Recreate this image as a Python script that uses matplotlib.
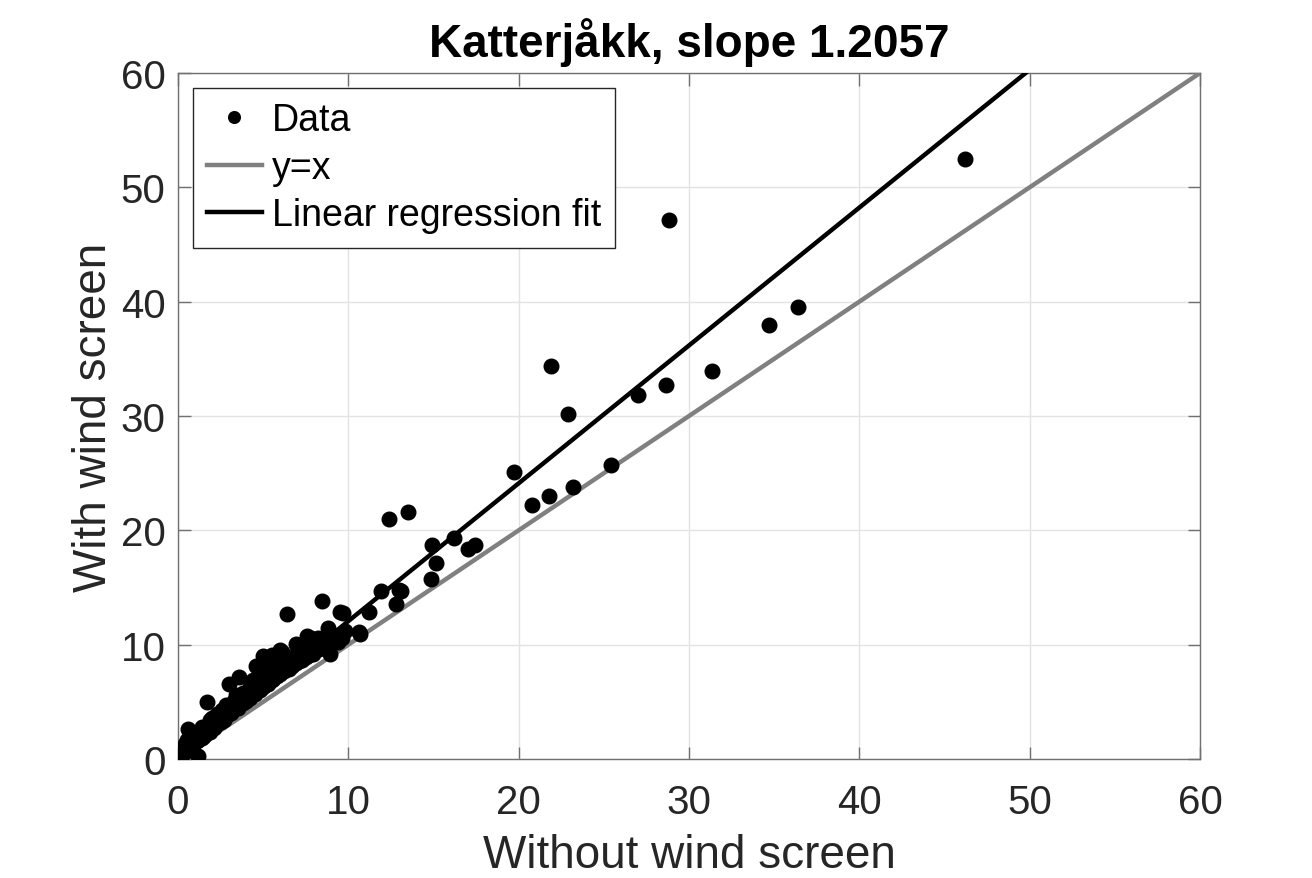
import matplotlib
matplotlib.use("Agg")
import matplotlib.pyplot as plt

plt.rcParams['font.family'] = ['Liberation Sans', 'DejaVu Sans']

station = "Katterjåkk"
slope = 1.2057

# Precipitation sums: gauge without wind screen (x) vs. with wind screen (y)
without_screen = [
    0.0, 0.1, 0.15, 0.2, 0.25, 0.3, 0.35, 0.4, 0.45, 0.5, 0.55, 0.6, 0.7, 0.75,
    0.8, 0.9, 1.0, 1.1, 1.2, 1.3, 1.4, 1.5, 1.6, 1.7, 1.8, 1.9, 2.0, 2.1, 2.2,
    2.3, 2.5, 2.6, 2.7, 2.8, 3.0, 3.1, 3.3, 3.5, 3.6, 3.8, 4.0, 4.1, 4.3, 4.5,
    4.6, 4.8, 5.0, 5.1, 5.3, 5.5, 5.6, 5.8, 6.0, 6.2, 6.5, 6.7, 6.9, 7.1, 7.3,
    7.5, 7.7, 7.9, 8.1, 8.3, 8.6, 8.8, 9.0, 9.2, 9.4, 9.6, 9.8,
    0.3, 0.6, 0.9, 1.2, 1.5, 1.8, 2.1, 2.4, 2.9, 3.2, 3.5, 3.9, 4.2, 4.4, 4.7,
    5.2, 5.4, 5.9, 6.3, 6.8, 7.2, 7.6, 8.0, 8.4, 8.9,
    0.2, 0.4, 0.5, 0.8, 1.0, 1.4, 1.9, 2.3, 2.6, 3.3, 3.8, 4.2, 4.9, 5.6, 6.2,
    6.6, 7.0, 7.4, 7.9, 8.2, 2.0, 2.8, 3.4, 4.4, 5.2, 5.8, 6.4, 7.1, 7.8,
    1.2, 1.7, 0.6, 0.9, 3.0, 3.6, 4.6, 5.0, 5.5, 6.1,
    6.4, 8.45, 9.5, 10.6, 8.8, 7.55, 6.9, 6.0, 9.4, 8.9, 9.7,
    10.7, 11.2, 11.9, 12.8, 13.1, 13.0, 14.85, 15.15, 14.9, 16.2, 17.0, 17.45,
    12.4, 13.5, 19.7, 20.8, 21.8, 23.2, 25.4, 22.9, 21.9,
    27.0, 28.65, 31.35, 34.7, 36.4, 28.8, 46.2,
]
with_screen = [
    0.0, 0.3, 0.2, 0.5, 0.4, 0.6, 0.8, 0.6, 0.9, 0.8, 1.0, 1.0, 1.2, 1.1,
    1.3, 1.3, 1.5, 1.6, 1.7, 1.9, 1.8, 2.1, 2.2, 2.3, 2.5, 2.4, 2.8, 2.7, 3.0,
    3.1, 3.2, 3.5, 3.4, 3.8, 4.0, 4.0, 4.4, 4.5, 4.8, 4.9, 5.1, 5.3, 5.5, 5.7,
    5.9, 6.0, 6.3, 6.5, 6.6, 6.9, 7.0, 7.3, 7.4, 7.7, 7.9, 8.1, 8.4, 8.6, 8.7,
    8.9, 9.1, 9.2, 9.5, 9.6, 9.9, 10.0, 10.1, 10.3, 10.5, 10.6, 11.2,
    0.5, 0.9, 1.4, 1.7, 2.0, 2.5, 2.9, 3.3, 3.9, 4.3, 4.6, 5.1, 5.3, 5.7, 6.1,
    6.8, 7.0, 7.6, 8.0, 8.5, 9.0, 9.5, 9.8, 10.2, 10.9,
    0.9, 1.3, 1.7, 2.0, 2.3, 2.8, 3.4, 3.9, 4.3, 5.1, 5.8, 6.3, 7.2, 8.0, 8.6,
    8.8, 9.3, 9.6, 10.3, 10.6, 3.6, 4.7, 5.6, 6.9, 7.8, 8.4, 8.9, 9.9, 10.6,
    0.3, 5.0, 2.6, 2.2, 6.6, 7.2, 8.1, 9.0, 9.1, 9.4,
    12.7, 13.8, 12.9, 11.1, 11.5, 10.8, 10.1, 9.5, 10.2, 9.2, 12.8,
    10.9, 12.9, 14.7, 13.6, 14.7, 14.8, 15.7, 17.1, 18.7, 19.3, 18.4, 18.7,
    21.0, 21.6, 25.1, 22.2, 23.0, 23.8, 25.7, 30.2, 34.4,
    31.8, 32.7, 33.9, 38.0, 39.5, 47.1, 52.5,
]

x_ticks = [0, 10, 20, 30, 40, 50, 60]
y_ticks = [0, 10, 20, 30, 40, 50, 60]

fig = plt.figure(figsize=(13.12, 8.79), dpi=100)
ax = fig.add_axes([178 / 1312, 1 - 760 / 879, (1200 - 178) / 1312, (760 - 74) / 879])

ax.plot(without_screen, with_screen, 'o', color='black', markersize=10.5,
        label='Data', zorder=4)
ax.plot([0, 60], [0, 60], color='#808080', linewidth=3.2, label='y=x', zorder=3)
x_fit_end = 60 / slope
ax.plot([0, x_fit_end], [0, slope * x_fit_end], color='black', linewidth=3.2,
        label='Linear regression fit', zorder=3)

ax.set_xlim(0, 60)
ax.set_ylim(0, 60)
ax.set_xticks(x_ticks)
ax.set_yticks(y_ticks)
ax.grid(True, color='#e3e3e3', linewidth=1.0)
ax.set_axisbelow(True)
ax.tick_params(direction='in', length=9, width=1.0, color='#707070',
               labelcolor='#262626', labelsize=29, top=True, right=True)
ax.tick_params(axis='x', pad=17)
ax.tick_params(axis='y', pad=9)
for sp in ax.spines.values():
    sp.set_color('#707070')
    sp.set_linewidth(1.0)

ax.set_xlabel('Without wind screen', fontsize=33, color='#262626', labelpad=9)
ax.set_ylabel('With wind screen', fontsize=33, color='#262626', labelpad=3)
ax.set_title(f'{station}, slope {slope:.4f}', fontsize=33, fontweight='bold',
             color='black', pad=12)

leg = ax.legend(loc='upper left', fontsize=27, frameon=True, fancybox=False,
                edgecolor='#262626', framealpha=1, borderpad=0.38,
                handlelength=1.45, handletextpad=0.27, labelspacing=0.31,
                borderaxespad=0.4, markerscale=0.8)
leg.get_frame().set_linewidth(1.0)

fig.savefig('out.png', dpi=100, facecolor='white')
